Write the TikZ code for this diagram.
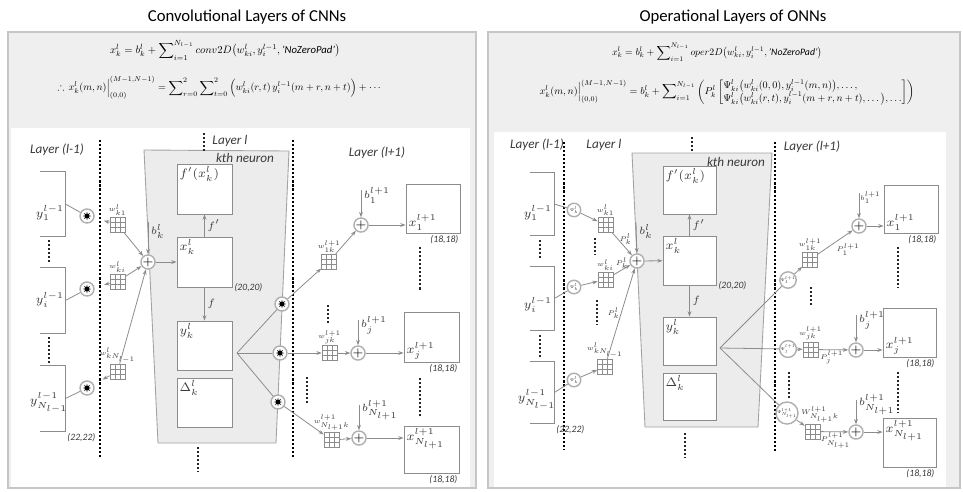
\documentclass[tikz,border=0pt]{standalone}
\usepackage{amsmath,amssymb}
\usepackage{graphicx}
\usepackage{fontspec}
\setmainfont{Carlito}
\usetikzlibrary{shapes.geometric, arrows.meta, positioning, calc}

\definecolor{PanelGray}{HTML}{EFEFEF}
\definecolor{PanelEdge}{HTML}{C6C6C6}
\definecolor{NeuronGray}{HTML}{ECECEC}
\definecolor{LineGray}{HTML}{8C8C8C}
\definecolor{TextGray}{HTML}{3A3A3A}

% small math for kernels and operators
\newcommand{\wlab}[1]{\scalebox{0.78}{$#1$}}
\newcommand{\psilab}[1]{\scalebox{0.5}{$#1$}}

\tikzset{
    every node/.style={text=TextGray},
    % Panel background
    panel/.style={
        rectangle,
        draw=PanelEdge,
        fill=PanelGray,
        line width=0.6pt
    },
    % kth neuron region
    neuron/.style={
        draw=LineGray!80,
        fill=NeuronGray,
        line width=0.5pt
    },
    % Feature map box
    fmap/.style={
        rectangle,
        draw=LineGray,
        fill=white,
        line width=0.5pt,
        inner sep=0pt
    },
    % Input map, only three sides are drawn
    inmap/.style={
        rectangle,
        inner sep=0pt,
        minimum width=0.5cm
    },
    % Convolution operator
    convop/.style={
        circle,
        draw=LineGray!70,
        fill=white,
        line width=0.8pt,
        minimum size=0.28cm,
        inner sep=0pt,
        path picture={
            \node[star, star points=8, star point ratio=2.4, fill=black,
                  inner sep=0pt, minimum size=0.17cm]
                at (path picture bounding box.center) {};
        }
    },
    % Nodal operator
    psiop/.style={
        circle,
        draw=LineGray!70,
        fill=white,
        line width=0.8pt,
        minimum size=0.27cm,
        inner sep=0pt,
        font=\fontsize{5}{5}\selectfont
    },
    % Summation
    sumop/.style={
        circle,
        draw=LineGray!70,
        fill=white,
        line width=0.8pt,
        minimum size=0.27cm,
        inner sep=0pt,
        text=black,
        font=\fontsize{7}{7}\selectfont\bfseries
    },
    % 3x3 kernel
    kernel/.style={
        rectangle,
        draw=LineGray,
        fill=white,
        line width=0.4pt,
        minimum size=0.3cm,
        inner sep=0pt,
        path picture={
            \foreach \q in {1,2} {
                \draw[LineGray, line width=0.4pt]
                    ($(path picture bounding box.north west)!\q/3!(path picture bounding box.north east)$) --
                    ($(path picture bounding box.south west)!\q/3!(path picture bounding box.south east)$);
                \draw[LineGray, line width=0.4pt]
                    ($(path picture bounding box.north west)!\q/3!(path picture bounding box.south west)$) --
                    ($(path picture bounding box.north east)!\q/3!(path picture bounding box.south east)$);
            }
        }
    },
    % Arrow style
    arrow/.style={
        ->,
        >={Stealth[length=3pt, width=2.2pt]},
        draw=LineGray,
        line width=0.45pt
    },
    % Plain connector
    link/.style={
        draw=LineGray,
        line width=0.45pt
    },
    % Layer separator
    sepline/.style={
        black,
        line width=1.5pt,
        dash pattern=on 1.2pt off 1.1pt
    },
    % Short dotted bar
    dotbar/.style={
        black!85,
        line width=1.5pt,
        dash pattern=on 1.2pt off 1.1pt
    },
    % Texts
    title/.style={font=\fontsize{9.5}{11}\selectfont, text=black},
    eqtext/.style={font=\fontsize{10}{12}\selectfont, text=black, inner sep=0pt},
    layertext/.style={font=\fontsize{7.5}{8}\selectfont\itshape},
    sizetext/.style={font=\fontsize{5.5}{6}\selectfont\itshape, inner sep=1pt},
    maptext/.style={font=\fontsize{7}{8}\selectfont, inner sep=1.5pt},
    wtext/.style={font=\fontsize{5}{5}\selectfont, inner sep=0.6pt},
    btext/.style={font=\fontsize{6.5}{7}\selectfont, inner sep=1.5pt}
}

\begin{document}
\begin{tikzpicture}[x=0.02cm, y=-0.02cm]
    \useasboundingbox (0,0) rectangle (963,491);
    \fill[white] (0,0) rectangle (963,491);

    % Titles
    \node[title] (cnntitle) at (247,17) {Convolutional Layers of CNNs};
    \node[title] (onntitle) at (733,17) {Operational Layers of ONNs};

    % Panels
    \draw[panel] (8,32) rectangle (476,488);
    \fill[white] (11,128) rectangle (470,487);
    \draw[panel] (488,32) rectangle (960,488);
    \fill[white] (494,132) rectangle (946,487);

    % ================= CNN =================
    % Equations
    \node[eqtext] (cnneq1) at (225,50)
        {\resizebox{4.6cm}{!}{$\displaystyle x_k^l = b_k^l + \sum\nolimits_{i=1}^{N_{l-1}} conv2D\big(w_{ki}^l, y_i^{l-1}, \textit{'NoZeroPad'}\big)$}};
    \node[eqtext] (cnneq2) at (220,88)
        {\resizebox{6.5cm}{!}{$\displaystyle \therefore\, x_k^l(m,n)\Big|_{(0,0)}^{(M-1,N-1)} = \sum\nolimits_{r=0}^{2}\sum\nolimits_{t=0}^{2}\Big(w_{ki}^l(r,t)\,y_i^{l-1}(m+r,n+t)\Big) + \cdots$}};

    % kth neuron
    \draw[neuron] (144,150) -- (289,151) -- (276,443) -- (158,443) -- cycle;

    % Separators
    \draw[sepline] (100,140) -- (100,458);
    \draw[sepline] (293,140) -- (293,458);
    \draw[dotbar] (204,133) -- (204,151);
    \draw[dotbar] (198,447) -- (198,472);
    \draw[dotbar] (49,240) -- (49,263);
    \draw[dotbar] (49,337) -- (49,363);
    \draw[dotbar] (328,305) -- (328,325);
    \draw[dotbar] (307,377) -- (307,403);
    \draw[dotbar] (420,247) -- (420,290);
    \draw[dotbar] (420,378) -- (420,418);

    \node[layertext] (clayer0) at (57,150) {Layer (l-1)};
    \node[layertext] (clayer1) at (230,141) {Layer l};
    \node[layertext] (clayer2) at (377,153) {Layer (l+1)};
    \node[layertext] (ckth) at (245,158) {kth neuron};

    % Layer l-1
    \node[inmap, minimum height=1.28cm] (cin1) at (52.5,204) {};
    \node[inmap, minimum height=1.3cm] (cin2) at (52.5,300.5) {};
    \node[inmap, minimum height=1.3cm,
          label={[sizetext, anchor=north west]south east:(22,22)}] (cin3) at (52.5,398.5) {};
    \node[maptext] (cy1) at (50,213) {$y_1^{l-1}$};
    \node[maptext] (cy2) at (50,300) {$y_i^{l-1}$};
    \node[maptext] (cy3) at (49,403) {$y_{N_{l-1}}^{l-1}$};

    \node[convop] (cconv1) at (87,216) {};
    \node[convop] (cconv2) at (87,289) {};
    \node[convop] (cconv3) at (87,388) {};

    \node[kernel, label={[wtext]above:\wlab{w_{k1}^l}}] (ck1) at (117.5,224.5) {};
    \node[kernel, label={[wtext]above:\wlab{w_{ki}^l}}] (ck2) at (117.5,281.5) {};
    \node[kernel, label={[wtext]above:\wlab{w_{kN_{l-1}}^l}}] (ck3) at (117.5,371.5) {};

    \node[sumop] (csum) at (148,262) {$+$};
    \coordinate (cbin) at (148,222);

    % Layer l
    \node[fmap, minimum width=1.1cm, minimum height=1cm,
          label={[maptext, anchor=north west]north west:$f'(x_k^l)$}] (cf) at (204.5,189) {};
    \node[fmap, minimum width=1.1cm, minimum height=1cm,
          label={[maptext, anchor=north west]north west:$x_k^l$},
          label={[sizetext, anchor=west]south east:(20,20)}] (cx) at (204.5,262) {};
    \node[fmap, minimum width=1.1cm, minimum height=0.98cm,
          label={[maptext, anchor=north west]north west:$y_k^l$}] (cy) at (204.5,345.5) {};
    \node[fmap, minimum width=1.1cm, minimum height=0.98cm,
          label={[maptext, anchor=north west]north west:$\Delta_k^l$}] (cd) at (204.5,402.5) {};
    \coordinate (cfan) at (237,353);

    \node[convop] (coc1) at (282,304) {};
    \node[convop] (coc2) at (280,353) {};
    \node[convop] (coc3) at (278,402) {};

    % Layer l+1
    \node[kernel, label={[wtext]above:\wlab{w_{1k}^{l+1}}}] (cok1) at (329,261.5) {};
    \node[kernel, label={[wtext]above:\wlab{w_{jk}^{l+1}}}] (cok2) at (329.5,353) {};
    \node[kernel, label={[wtext]above:\wlab{w_{N_{l+1}k}^{l+1}}}] (cok3) at (331.5,440) {};

    \node[sumop] (cos1) at (361,225) {$+$};
    \node[sumop] (cos2) at (358,353) {$+$};
    \node[sumop] (cos3) at (359,438) {$+$};
    \coordinate (cob1) at (361,190);
    \coordinate (cob2) at (358,320);
    \coordinate (cob3) at (359,405);

    \node[fmap, minimum width=1.08cm, minimum height=0.98cm,
          label={[maptext, anchor=south west]south west:$x_1^{l+1}$},
          label={[sizetext, anchor=north east]south east:(18,18)}] (cout1) at (433,208.5) {};
    \node[fmap, minimum width=1.1cm, minimum height=1cm,
          label={[maptext, anchor=south west]south west:$x_j^{l+1}$},
          label={[sizetext, anchor=north east]south east:(18,18)}] (cout2) at (431.5,337) {};
    \node[fmap, minimum width=1.1cm, minimum height=0.94cm,
          label={[maptext, anchor=north west]north west:$x_{N_{l+1}}^{l+1}$},
          label={[sizetext, anchor=north east]south east:(18,18)}] (cout3) at (431.5,449.5) {};

    % Connectors
    \foreach \n in {cin1,cin2,cin3}
        \draw[link] (\n.north west) -- (\n.north east) -- (\n.south east) -- (\n.south west);
    \draw[link] (cin1.east) -- (cconv1);
    \draw[link] (cin2.east) -- (cconv2);
    \draw[link] (cin3.east) -- (cconv3);
    \draw[arrow, shorten >=0.2cm] (ck1) -- (cconv1);
    \draw[arrow, shorten >=0.2cm] (ck2) -- (cconv2);
    \draw[arrow, shorten >=0.2cm] (ck3) -- (cconv3);
    \draw[arrow] (ck1) -- (csum);
    \draw[arrow] (ck2) -- (csum);
    \draw[arrow] (ck3) -- (csum);
    \draw[arrow] (cbin) -- node[btext, right, pos=0.3] {$b_k^l$} (csum);
    \draw[arrow] (csum) -- (cx);
    \draw[arrow] (cx) -- node[btext, right] {$f'$} (cf);
    \draw[arrow] (cx) -- node[btext, right] {$f$} (cy);
    \draw[link] (cfan) -- (coc1);
    \draw[link] (cfan) -- (coc2);
    \draw[link] (cfan) -- (coc3);
    \draw[arrow] (coc1) -- (cok1);
    \draw[arrow] (coc2) -- (cok2);
    \draw[arrow] (coc3) -- (cok3);
    \draw[arrow] (cok1) -- (cos1);
    \draw[arrow] (cok2) -- (cos2);
    \draw[arrow] (cok3) -- (cos3);
    \draw[arrow] (cob1) -- node[btext, right, pos=0.2] {$b_1^{l+1}$} (cos1);
    \draw[arrow] (cob2) -- node[btext, right, pos=0.2] {$b_j^{l+1}$} (cos2);
    \draw[arrow] (cob3) -- node[btext, right, pos=0.2] {$b_{N_{l+1}}^{l+1}$} (cos3);
    \draw[arrow] (cos1) -- (cos1 -| cout1.west);
    \draw[arrow] (cos2) -- (cos2 -| cout2.west);
    \draw[arrow] (cos3) -- (cos3 -| cout3.west);

    % ================= ONN =================
    % Equations
    \node[eqtext] (onneq1) at (717,52)
        {\resizebox{4.2cm}{!}{$\displaystyle x_k^l = b_k^l + \sum\nolimits_{i=1}^{N_{l-1}} oper2D\big(w_{ki}^l, y_i^{l-1}, \textit{'NoZeroPad'}\big)$}};
    \node[eqtext] (onneq2) at (727,92)
        {\resizebox{7.5cm}{!}{$\displaystyle x_k^l(m,n)\Big|_{(0,0)}^{(M-1,N-1)} = b_k^l + \sum\nolimits_{i=1}^{N_{l-1}}\left(P_k^l\left[\begin{array}{@{}l@{}}\Psi_{ki}^l\big(w_{ki}^l(0,0), y_i^{l-1}(m,n)\big), \ldots,\\ \Psi_{ki}^l\big(w_{ki}^l(r,t), y_i^{l-1}(m+r,n+t), \ldots\big), \ldots\end{array}\right]\right)$}};

    % kth neuron
    \draw[neuron] (632,153) -- (772,153) -- (758,427) -- (645,427) -- cycle;

    % Separators
    \draw[sepline] (564,142) -- (564,450);
    \draw[sepline] (775,142) -- (775,452);
    \draw[dotbar] (692,137) -- (692,152);
    \draw[dotbar] (685,433) -- (685,458);
    \draw[dotbar] (540,240) -- (540,260);
    \draw[dotbar] (540,335) -- (540,358);
    \draw[dotbar] (595,238) -- (595,255);
    \draw[dotbar] (597,300) -- (597,325);
    \draw[dotbar] (898,247) -- (898,288);
    \draw[dotbar] (811,287) -- (811,305);
    \draw[dotbar] (789,372) -- (789,398);
    \draw[dotbar] (898,372) -- (898,413);

    \node[layertext] (olayer0) at (537,145) {Layer (l-1)};
    \node[layertext] (olayer1) at (604,145) {Layer l};
    \node[layertext] (olayer2) at (812,147) {Layer (l+1)};
    \node[layertext] (okth) at (736,162) {kth neuron};

    % Layer l-1
    \node[inmap, minimum width=0.48cm, minimum height=1.24cm] (oin1) at (542,204) {};
    \node[inmap, minimum width=0.48cm, minimum height=1.26cm] (oin2) at (542,298.5) {};
    \node[inmap, minimum width=0.48cm, minimum height=1.22cm,
          label={[sizetext, anchor=north west]south east:(22,22)}] (oin3) at (542,392.5) {};
    \node[maptext] (oy1) at (538,213) {$y_1^{l-1}$};
    \node[maptext] (oy2) at (538,305) {$y_i^{l-1}$};
    \node[maptext] (oy3) at (537,400) {$y_{N_{l-1}}^{l-1}$};

    \node[psiop] (opsi1) at (574,210) {\psilab{\Psi_k^l}};
    \node[psiop] (opsi2) at (574,287) {\psilab{\Psi_k^l}};
    \node[psiop] (opsi3) at (574,380) {\psilab{\Psi_k^l}};

    \node[kernel, label={[wtext]above:\wlab{w_{k1}^l}}] (ok1) at (605.5,225) {};
    \node[kernel, label={[wtext]above:\wlab{w_{ki}^l}}] (ok2) at (605.5,279.5) {};
    \node[kernel, label={[wtext]above:\wlab{w_{kN_{l-1}}^l}}] (ok3) at (605,366.5) {};

    \node[sumop] (osum) at (637,261) {$+$};
    \coordinate (obin) at (636,222);

    % Layer l
    \node[fmap, minimum width=1.06cm, minimum height=0.96cm,
          label={[maptext, anchor=north west]north west:$f'(x_k^l)$}] (of) at (689.5,190) {};
    \node[fmap, minimum width=1.06cm, minimum height=0.98cm,
          label={[maptext, anchor=north west]north west:$x_k^l$},
          label={[sizetext, anchor=west]south east:(20,20)}] (ox) at (689.5,260.5) {};
    \node[fmap, minimum width=1.06cm, minimum height=0.96cm,
          label={[maptext, anchor=north west]north west:$y_k^l$}] (oy) at (689.5,341) {};
    \node[fmap, minimum width=1.06cm, minimum height=0.94cm,
          label={[maptext, anchor=north west]north west:$\Delta_k^l$}] (od) at (689.5,396.5) {};
    \coordinate (ofan) at (720,348);

    % Layer l+1
    \node[psiop] (oq1) at (788,280) {\psilab{\Psi_1^{l+1}}};
    \node[psiop] (oq2) at (788,349) {\psilab{\Psi_j^{l+1}}};
    \node[psiop] (oq3) at (787,413) {\psilab{\Psi_{N_{l+1}}^{l+1}}};

    \node[kernel, label={[wtext]above:\wlab{w_{1k}^{l+1}}}] (ook1) at (810,259.5) {};
    \node[kernel, label={[wtext]above:\wlab{w_{jk}^{l+1}}}] (ook2) at (810.5,349.5) {};
    \node[kernel, label={[wtext, anchor=south west, xshift=-0.1cm]north west:\wlab{W_{N_{l+1}k}^{l+1}}}] (ook3) at (812.5,431.5) {};

    \node[sumop] (oos1) at (859,226) {$+$};
    \node[sumop] (oos2) at (856,350) {$+$};
    \node[sumop] (oos3) at (856,432) {$+$};
    \coordinate (oob1) at (859,193);
    \coordinate (oob2) at (856,315);
    \coordinate (oob3) at (856,400);

    \node[fmap, minimum width=1.08cm, minimum height=0.96cm,
          label={[maptext, anchor=south west]south west:$x_1^{l+1}$},
          label={[sizetext, anchor=north east]south east:(18,18)}] (oout1) at (911,209) {};
    \node[fmap, minimum width=1.06cm, minimum height=0.98cm,
          label={[maptext, anchor=south west]south west:$x_j^{l+1}$},
          label={[sizetext, anchor=north east]south east:(18,18)}] (oout2) at (909.5,332.5) {};
    \node[fmap, minimum width=1.06cm, minimum height=0.98cm,
          label={[maptext, anchor=north west]north west:$x_{N_{l+1}}^{l+1}$},
          label={[sizetext, anchor=north east]south east:(18,18)}] (oout3) at (909.5,442.5) {};

    % Connectors
    \foreach \n in {oin1,oin2,oin3}
        \draw[link] (\n.north west) -- (\n.north east) -- (\n.south east) -- (\n.south west);
    \draw[link] (oin1.east) -- (opsi1);
    \draw[link] (oin2.east) -- (opsi2);
    \draw[link] (oin3.east) -- (opsi3);
    \draw[arrow] (opsi1) -- (ok1);
    \draw[arrow] (opsi2) -- (ok2);
    \draw[arrow] (opsi3) -- (ok3);
    \draw[arrow] (ok1) -- node[wtext, right, pos=0.3] {\wlab{P_k^l}} (osum);
    \draw[arrow] (ok2) -- node[wtext, above, pos=0.5] {\wlab{P_k^l}} (osum);
    \draw[arrow] (ok3) -- node[wtext, left, pos=0.5] {\wlab{P_k^l}} (osum);
    \draw[arrow] (obin) -- node[btext, right, pos=0.3] {$b_k^l$} (osum);
    \draw[arrow] (osum) -- (ox);
    \draw[arrow] (ox) -- node[btext, right] {$f'$} (of);
    \draw[arrow] (ox) -- node[btext, right] {$f$} (oy);
    \draw[link] (ofan) -- (oq1);
    \draw[link] (ofan) -- (oq2);
    \draw[link] (ofan) -- (oq3);
    \draw[arrow] (oq1) -- (ook1);
    \draw[arrow] (oq2) -- (ook2);
    \draw[arrow] (oq3) -- (ook3);
    \draw[arrow] (ook1) -- node[wtext, below right, pos=0.5] {\wlab{P_1^{l+1}}} (oos1);
    \draw[arrow] (ook2) -- node[wtext, below, pos=0.45] {\wlab{P_j^{l+1}}} (oos2);
    \draw[arrow] (ook3) -- node[wtext, below, pos=0.55] {\wlab{P_{N_{l+1}}^{l+1}}} (oos3);
    \draw[arrow] (oob1) -- node[wtext, right, pos=0.2] {\wlab{b_1^{l+1}}} (oos1);
    \draw[arrow] (oob2) -- node[btext, right, pos=0.2] {$b_j^{l+1}$} (oos2);
    \draw[arrow] (oob3) -- node[btext, right, pos=0.2] {$b_{N_{l+1}}^{l+1}$} (oos3);
    \draw[arrow] (oos1) -- (oos1 -| oout1.west);
    \draw[arrow] (oos2) -- (oos2 -| oout2.west);
    \draw[arrow] (oos3) -- (oos3 -| oout3.west);
\end{tikzpicture}
\end{document}
